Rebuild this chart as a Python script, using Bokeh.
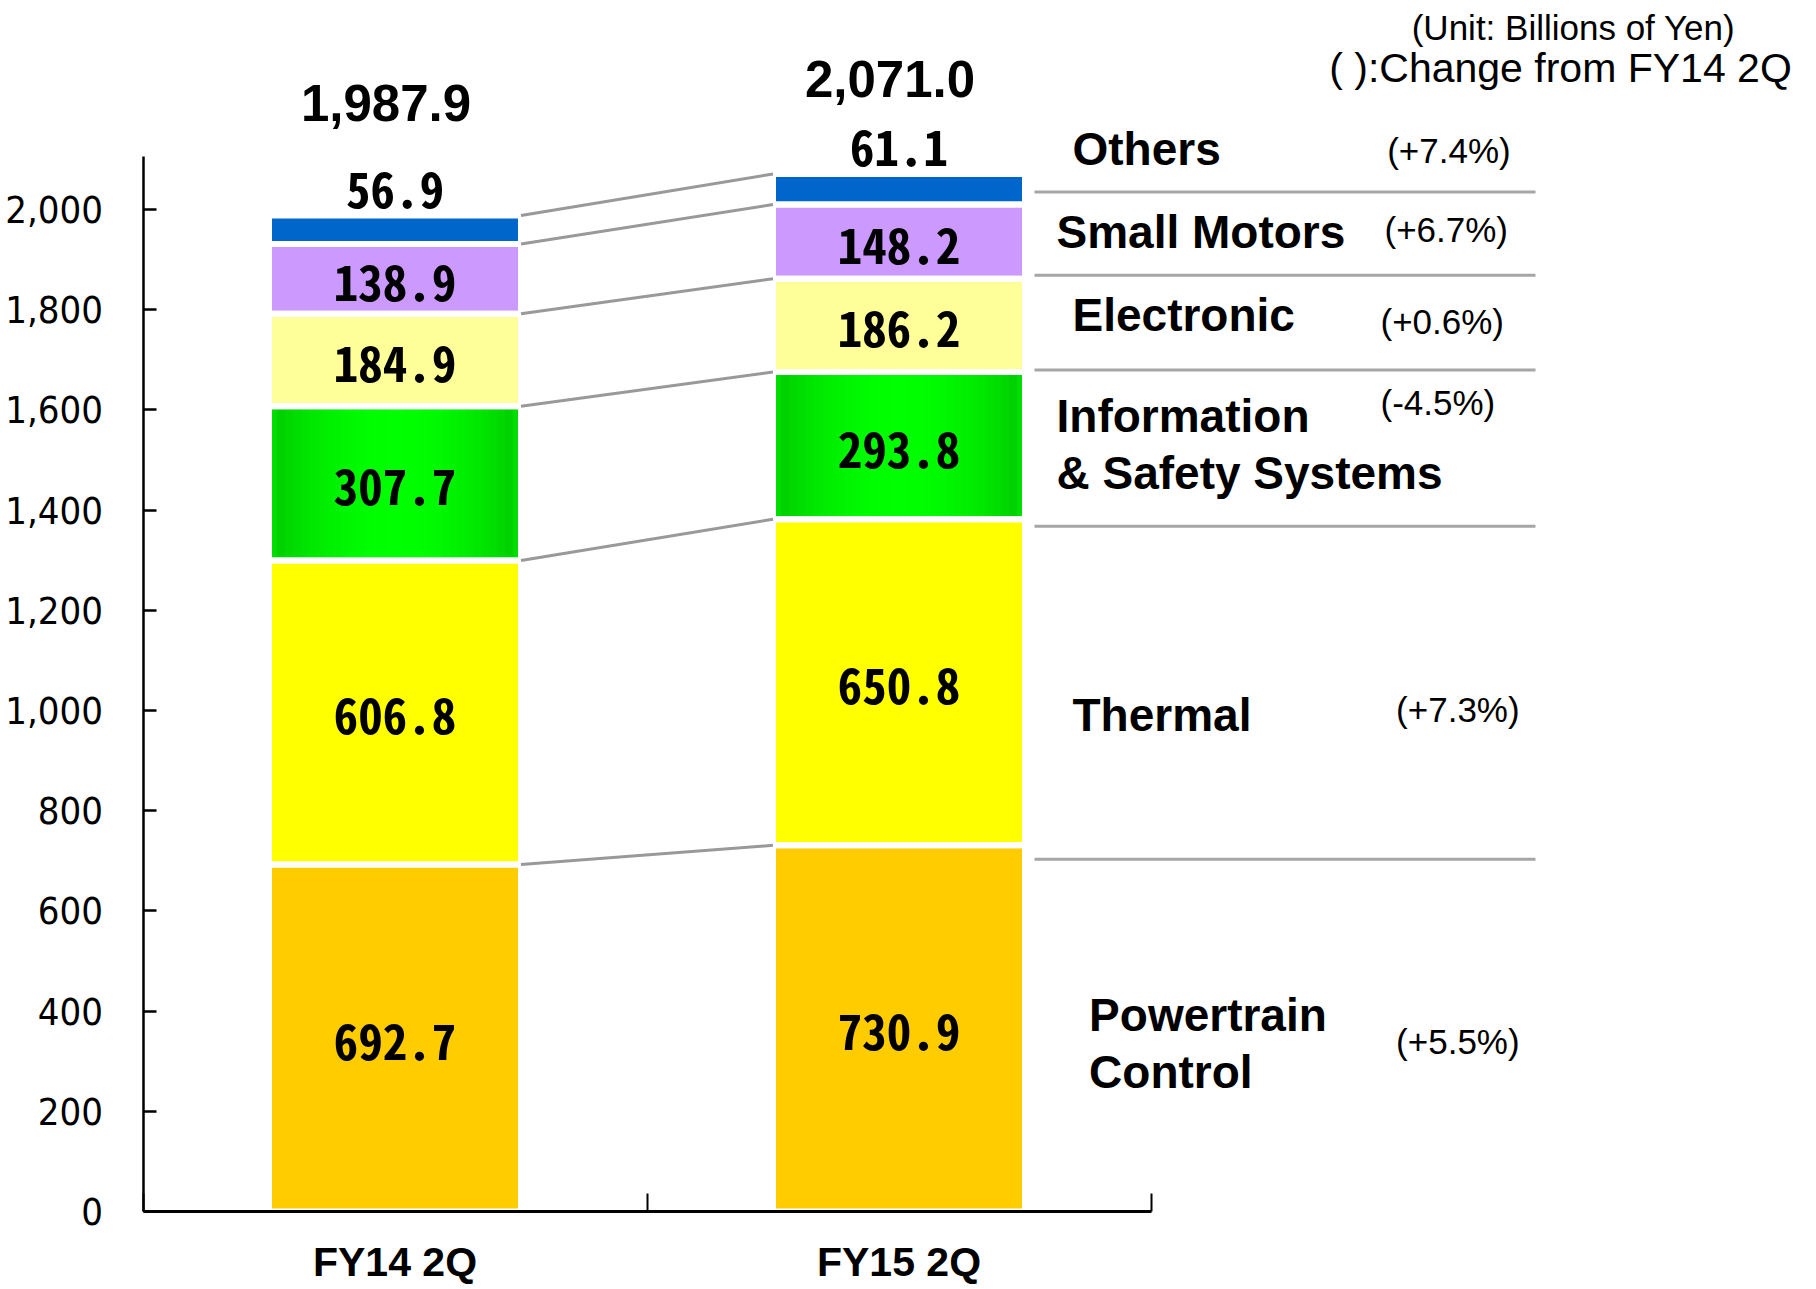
import numpy as np
from bokeh.plotting import figure
from bokeh.models import FixedTicker, ColumnDataSource, Range1d
from bokeh.core.properties import value
from bokeh.embed import file_html
from bokeh.resources import INLINE

# ---------------- data ----------------
periods = ["FY14 2Q", "FY15 2Q"]
segments = ["Powertrain\nControl", "Thermal", "Information\n& Safety Systems",
            "Electronic", "Small Motors", "Others"]
fy14_values = [692.7, 606.8, 307.7, 184.9, 138.9, 56.9]
fy15_values = [730.9, 650.8, 293.8, 186.2, 148.2, 61.1]
changes = ["(+5.5%)", "(+7.3%)", "(-4.5%)", "(+0.6%)", "(+6.7%)", "(+7.4%)"]
total_labels = ["1,987.9", "2,071.0"]
y_ticks = [0, 200, 400, 600, 800, 1000, 1200, 1400, 1600, 1800, 2000]
y_tick_labels = ["0", "200", "400", "600", "800", "1,000", "1,200", "1,400",
                 "1,600", "1,800", "2,000"]
unit_note = "(Unit: Billions of Yen)"
change_note = "( ):Change from FY14 2Q"

# ---------------- styles ----------------
colors = ["#FFCC00", "#FFFF00", "#00DD00", "#FFFF99", "#CC99FF", "#0066CC"]
SANS = "'Liberation Sans', Arial, sans-serif"
NARROW = "'DejaVu Sans Condensed', 'Liberation Sans', sans-serif"
MONO = "'Noto Sans Mono CJK JP', 'DejaVu Sans Condensed', sans-serif"

# ---------------- layout ----------------
W, H = 1816, 1289
PAGE = 0
X0_FIG = 142.5        # figure px where x = 0
Y0_FIG = 1211.0       # figure px where value = 0
PXX = 504.0           # px per x unit
PXU = 0.501           # px per value unit
X_START = -X0_FIG / PXX
X_END = (W - X0_FIG) / PXX
Y_START = -(H - Y0_FIG) / PXU
Y_END = Y0_FIG / PXU

def px_x(px):
    return (px - PAGE) / PXX + X_START

def px_y(py):
    return Y_END - (py - PAGE) / PXU

def dy(px):
    return px / PXU

xs = [0.5, 1.5]
bar_w = 0.5

vals = np.array([fy14_values, fy15_values])
tops = np.cumsum(vals, axis=1)
bottoms = tops - vals
mids = (tops + bottoms) / 2
totals = tops[:, -1]

p = figure(width=W, height=H, output_backend="svg", toolbar_location=None,
           x_range=Range1d(X_START, X_END), y_range=Range1d(Y_START, Y_END),
           min_border_left=0, min_border_bottom=0, min_border_top=0,
           min_border_right=0)
p.outline_line_color = None
p.xgrid.grid_line_color = None
p.ygrid.grid_line_color = None
p.background_fill_color = "white"

# ---------- bars ----------
for i in range(len(segments)):
    src = ColumnDataSource(dict(x=xs, bottom=bottoms[:, i], top=tops[:, i]))
    p.vbar(x="x", bottom="bottom", top="top", width=bar_w, source=src,
           fill_color=colors[i], line_color=None)
    if i == 2:
        n = 16
        for k in range(1, n):
            f = 1 - k / n
            g = int(round(255 - 51 * f ** 2.0))
            p.vbar(x="x", bottom="bottom", top="top", width=bar_w * f, source=src,
                   fill_color="#00%02X00" % g, line_color=None)
for i in range(len(segments)):
    src = ColumnDataSource(dict(x=xs, bottom=bottoms[:, i], top=tops[:, i]))
    p.vbar(x="x", bottom="bottom", top="top", width=bar_w, source=src,
           fill_color=None, line_color="white", line_width=6)

# ---------- connectors ----------
p.segment(x0=[xs[0] + bar_w / 2] * len(segments), y0=tops[0],
          x1=[xs[1] - bar_w / 2] * len(segments), y1=tops[1],
          line_color="#999999", line_width=3)

# ---------- value labels ----------
lx, ly, lt = [], [], []
for j in range(2):
    for i in range(len(segments)):
        lx.append(xs[j])
        if i == len(segments) - 1:
            ly.append(tops[j, i] + dy(26))
        else:
            ly.append(mids[j, i] - dy(4))
        lt.append("%.1f" % vals[j, i])
p.text(x=lx, y=ly, text=lt, text_font=value(MONO), text_font_size="49px",
       text_font_style="bold", text_align="center", text_baseline="middle",
       text_color="black")

# totals
total_offsets = [113, 95]
p.text(x=[xs[j] - 9 / PXX for j in range(2)],
       y=[totals[j] + dy(total_offsets[j]) for j in range(2)],
       text=total_labels, text_font=value(SANS), text_font_size="51px",
       text_font_style="bold", text_align="center", text_baseline="middle")

# ---------- right-hand table ----------
sep_dy = [14, 7, -2, -3.5, -12.5]   # px (down) from FY15 segment tops
p.segment(x0=[px_x(1034)] * 5, y0=[tops[1, i] - dy(sep_dy[i]) for i in range(5)],
          x1=[px_x(1535)] * 5, y1=[tops[1, i] - dy(sep_dy[i]) for i in range(5)],
          line_color="#A6A6A6", line_width=3)

name_x_page = [1088.6, 1072, 1056, 1072, 1056, 1072]
name_dy = [15, 33, -1.5, -10, -9.4, -40.7]
p.text(x=[px_x(v) for v in name_x_page],
       y=[mids[1, i] - dy(name_dy[i]) for i in range(len(segments))],
       text=segments, text_font=value(SANS), text_font_size="46px",
       text_font_style="bold", text_align="left", text_baseline="middle",
       text_line_height=1.1)

pct_x_page = [1395.6, 1395.6, 1380, 1380, 1384, 1386.7]
pct_dy = [13, 27, -43, -4, -12, -39]
p.text(x=[px_x(v) for v in pct_x_page],
       y=[mids[1, i] - dy(pct_dy[i]) for i in range(len(segments))],
       text=changes, text_font=value(SANS), text_font_size="35px",
       text_align="left", text_baseline="middle")

p.text(x=[px_x(1573), px_x(1560)], y=[px_y(27), px_y(67)],
       text=[unit_note, change_note], text_font=value(SANS),
       text_font_size=["35px", "41px"], text_align="center", text_baseline="middle")

# ---------- axes ----------
xa = p.xaxis[0]
xa.fixed_location = 0
xa.ticker = FixedTicker(ticks=xs, minor_ticks=[0, 1, 2])
xa.major_label_overrides = {xs[j]: periods[j] for j in range(2)}
xa.bounds = (0, 2)
xa.axis_line_width = 3
xa.axis_line_color = "black"
xa.major_tick_in = 0
xa.major_tick_out = 0
xa.minor_tick_in = 18
xa.minor_tick_out = 0
xa.minor_tick_line_width = 2
xa.minor_tick_line_color = "black"
xa.major_label_standoff = 27
xa.major_label_text_font = SANS
xa.major_label_text_font_size = "41px"
xa.major_label_text_font_style = "bold"
xa.major_label_text_color = "black"

ya = p.yaxis[0]
ya.fixed_location = 0
ya.ticker = FixedTicker(ticks=y_ticks, minor_ticks=[])
ya.major_label_overrides = {y_ticks[k]: y_tick_labels[k] for k in range(len(y_ticks))}
ya.bounds = (0, 2105)
ya.axis_line_width = 2.5
ya.axis_line_color = "black"
ya.major_tick_in = 13
ya.major_tick_out = 0
ya.major_tick_line_width = 2.5
ya.major_tick_line_color = "black"
ya.major_label_standoff = 40
ya.major_label_text_font = NARROW
ya.major_label_text_font_size = "38px"
ya.major_label_text_color = "black"

open("out.html", "w").write(file_html(p, INLINE))
